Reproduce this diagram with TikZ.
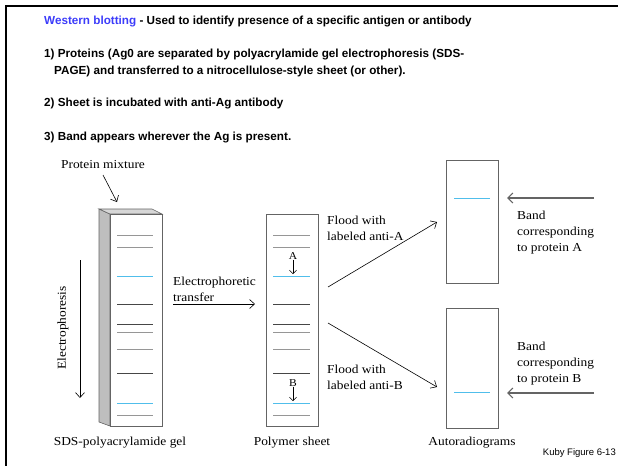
\documentclass[tikz,border=0pt]{standalone}
\usepackage{fontspec}
\setmainfont{Liberation Serif}[FakeStretch=1.1]
\newfontfamily\hdrfont{Liberation Sans}
\usetikzlibrary{arrows.meta}
\definecolor{hblue}{RGB}{60,60,250}
\definecolor{bandblue}{RGB}{80,190,235}
\definecolor{banddark}{RGB}{70,70,70}
\definecolor{bandgray}{RGB}{150,150,150}
\definecolor{sidegray}{RGB}{190,190,190}
\definecolor{topgray}{RGB}{215,215,215}
\definecolor{boxgray}{RGB}{100,100,100}
\tikzset{
  hdr/.style={anchor=west, inner sep=0pt, font=\hdrfont\bfseries\fontsize{11.7}{13}\selectfont},
  fig/.style={inner sep=0pt, font=\fontsize{12.2}{16}\selectfont, align=left},
  panel/.style={draw=boxgray, line width=0.7pt, fill=white, inner sep=0pt, minimum width=52pt},
  arr/.style={line width=0.6pt, -{Straight Barb[length=5pt,width=9pt]}},
  smallarr/.style={line width=0.5pt, -{Straight Barb[length=3.5pt,width=7pt]}},
  bigarr/.style={draw=boxgray, line width=1.2pt, -{Straight Barb[length=5pt,width=10pt]}},
  bandline/.style={line width=1pt}
}
\begin{document}
\begin{tikzpicture}[x=1pt,y=-1pt]
\useasboundingbox (0,0) rectangle (618,466);
\draw[line width=2.5pt] (618,6) -- (6,6) -- (6,466);

% header text
\node[hdr] (h0) at (44,21) {\textcolor{hblue}{Western blotting} - Used to identify presence of a specific antigen or antibody};
\node[hdr] (h1) at (44,54) {1) Proteins (Ag0 are separated by polyacrylamide gel electrophoresis (SDS-};
\node[hdr] (h1b) at (54,71) {PAGE) and transferred to a nitrocellulose-style sheet (or other).};
\node[hdr] (h2) at (44,103) {2) Sheet is incubated with anti-Ag antibody};
\node[hdr] (h3) at (44,137) {3) Band appears wherever the Ag is present.};

% gel
\fill[sidegray, draw=boxgray, line width=0.6pt] (99,209) -- (110,214) -- (110,426) -- (99,422) -- cycle;
\fill[topgray, draw=boxgray, line width=0.6pt] (99,209) -- (152,209) -- (162,214) -- (110,214) -- cycle;
\node[panel, minimum height=212pt] (gel) at (136,320) {};
\node[panel, minimum height=212pt] (sheet) at (292,320) {};

\foreach \yy/\cc in {235/bandgray,247/bandgray,276/bandblue,304/banddark,324/banddark,332/bandgray,349/bandgray,373/banddark,403/bandblue,415/bandgray}{
  \draw[bandline, \cc] (117,\yy) -- (153,\yy);
  \draw[bandline, \cc] (273,\yy) -- (310,\yy);
}

% autoradiograms
\node[panel, minimum height=123pt] (autoA) at (472,221.5) {};
\node[panel, minimum height=120pt] (autoB) at (472,368) {};
\draw[bandline, bandblue] (454,198) -- (490,198);
\draw[bandline, bandblue] (454,392) -- (490,392);

% labels and connectors
\node[fig] (pm) at (103,165) {Protein mixture};
\coordinate (pmstart) at (103,175);
\coordinate (pmend) at (117,202);
\draw[arr] (pmstart) -- (pmend);

\coordinate (eltop) at (80,260);
\coordinate (elbot) at (80,398);
\draw[arr] (eltop) -- (elbot);
\node[fig, rotate=90] (elabel) at (63,328) {Electrophoresis};

\node[fig, anchor=west] (trans) at (173,289) {Electrophoretic\\transfer};
\coordinate (transstart) at (173,304);
\coordinate (transend) at (255,304);
\draw[arr] (transstart) -- (transend);

\node[fig, font=\fontsize{10.5}{10}\selectfont] (lA) at (293,256) {A};
\coordinate (lAend) at (293,274);
\draw[smallarr] (lA.south) -- (lAend);
\node[fig, font=\fontsize{10.5}{10}\selectfont] (lB) at (293,383) {B};
\coordinate (lBend) at (293,401);
\draw[smallarr] (lB.south) -- (lBend);

\node[fig, anchor=west] (fA) at (327,228) {Flood with\\labeled anti-A};
\node[fig, anchor=west] (fB) at (327,377) {Flood with\\labeled anti-B};
\coordinate (fAs) at (328,287);
\coordinate (fAe) at (437,222);
\coordinate (fBs) at (328,323);
\coordinate (fBe) at (437,387);
\draw[arr] (fAs) -- (fAe);
\draw[arr] (fBs) -- (fBe);

\coordinate (bAs) at (594,198);
\coordinate (bAe) at (507,198);
\coordinate (bBs) at (594,393);
\coordinate (bBe) at (507,393);
\draw[bigarr] (bAs) -- (bAe);
\draw[bigarr] (bBs) -- (bBe);
\node[fig, anchor=north west] (tA) at (517,211) {Band\\corresponding\\to protein A};
\node[fig, anchor=north west] (tB) at (517,342) {Band\\corresponding\\to protein B};

\node[fig] (gelname) at (120,443) {SDS-polyacrylamide gel};
\node[fig] (sheetname) at (292,443) {Polymer sheet};
\node[fig] (autoname) at (472,443) {Autoradiograms};

\node[anchor=east, inner sep=0pt, font=\hdrfont\fontsize{9.5}{10}\selectfont] (kuby) at (616,453) {Kuby Figure 6-13};
\end{tikzpicture}
\end{document}
